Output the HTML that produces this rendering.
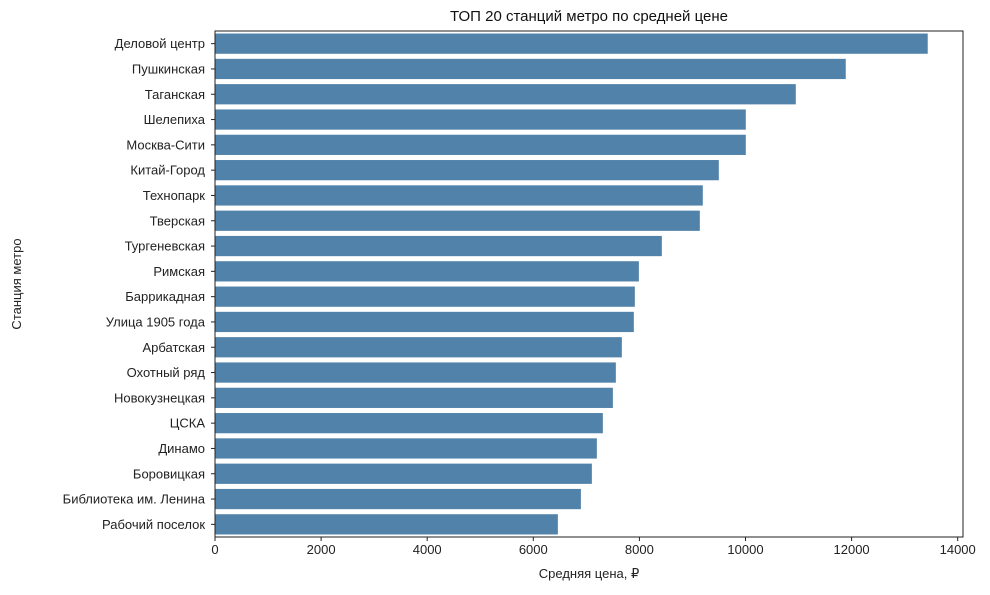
<!DOCTYPE html>
<html><head><meta charset="utf-8"><style>
body{margin:0;background:#fff;}
svg{font-family:"Liberation Sans","DejaVu Sans",sans-serif;}
</style></head><body>
<svg id="chart" width="990" height="590" xmlns="http://www.w3.org/2000/svg"></svg>
<script>
const categories=["Деловой центр","Пушкинская","Таганская","Шелепиха","Москва-Сити","Китай-Город","Технопарк","Тверская","Тургеневская","Римская","Баррикадная","Улица 1905 года","Арбатская","Охотный ряд","Новокузнецкая","ЦСКА","Динамо","Боровицкая","Библиотека им. Ленина","Рабочий поселок"];
const values=[13435,11890,10948,10006,10006,9497,9195,9139,8423,7990,7914,7895,7669,7556,7500,7311,7198,7104,6897,6463];
const xTicks=[0,2000,4000,6000,8000,10000,12000,14000];
const L=215,R=963,T=31,B=537;
const xMax=14100;
const svg=document.getElementById('chart');
const NS='http://www.w3.org/2000/svg';
function x(v){return L+v/xMax*(R-L);}
const band=(B-T)/categories.length;
function y(i){return T+i*band;}
function mk(tag,attrs,parent){const e=document.createElementNS(NS,tag);for(const k in attrs)e.setAttribute(k,attrs[k]);(parent||svg).appendChild(e);return e;}
categories.forEach((c,i)=>{
  const r=mk('rect',{x:L,y:y(i)+band*0.1,width:x(values[i])-L,height:band*0.8,fill:'#5182a9'});
  
  
  const t=mk('text',{x:L-10,y:y(i)+band/2+4.5,'text-anchor':'end','font-size':'13',fill:'#222'});
  t.textContent=c;
  
  
  mk('line',{x1:L-4,x2:L,y1:y(i)+band/2,y2:y(i)+band/2,stroke:'#222'});
});
xTicks.forEach(v=>{
  mk('line',{x1:x(v),x2:x(v),y1:B,y2:B+4,stroke:'#222'});
  const t=mk('text',{x:x(v),y:B+17,'text-anchor':'middle','font-size':'13',fill:'#222'});
  t.textContent=v;
  
  
});
const fr=mk('rect',{x:L,y:T,width:R-L,height:B-T,fill:'none',stroke:'#222','stroke-width':'1'});


const ti=mk('text',{x:(L+R)/2,y:21,'text-anchor':'middle','font-size':'15',fill:'#111'});
ti.textContent='ТОП 20 станций метро по средней цене';


const xl=mk('text',{x:(L+R)/2,y:578,'text-anchor':'middle','font-size':'13',fill:'#222'});
xl.textContent='Средняя цена, ₽';


const yl=mk('text',{x:0,y:0,'text-anchor':'middle','font-size':'13',fill:'#222',transform:'translate(21,284) rotate(-90)'});
yl.textContent='Станция метро';


</script>
</body></html>
